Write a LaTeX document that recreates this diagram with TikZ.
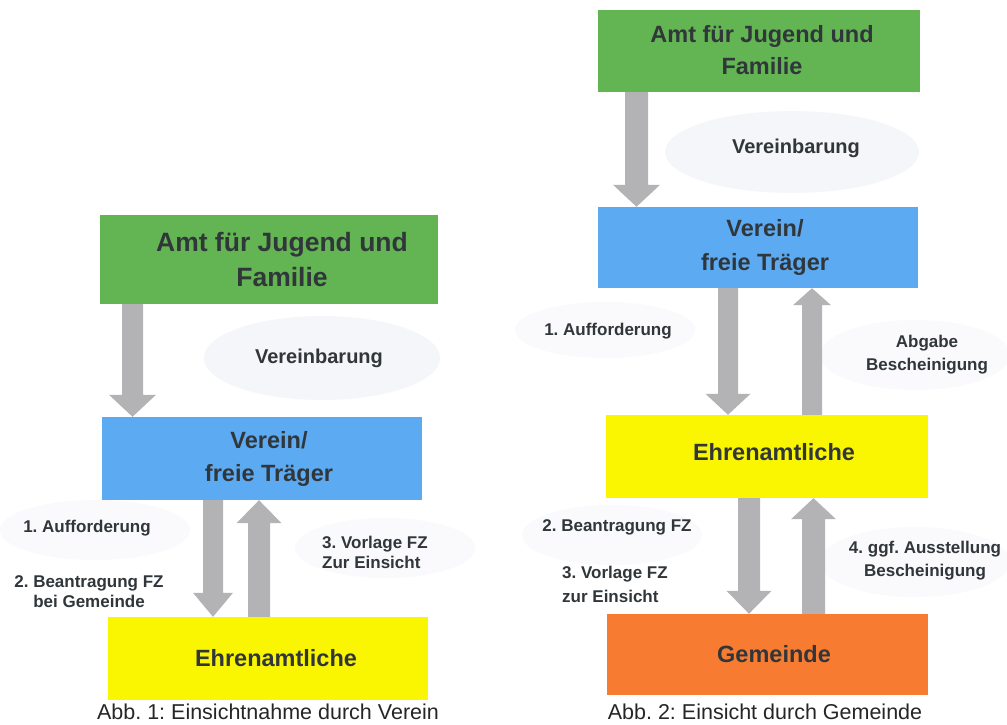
\documentclass[tikz,border=0pt]{standalone}
\usepackage{fontspec}
\setmainfont{Liberation Sans}
\usetikzlibrary{calc}
\frenchspacing
\definecolor{boxgreen}{HTML}{63B452}
\definecolor{boxblue}{HTML}{5BAAF2}
\definecolor{boxyellow}{HTML}{FAF500}
\definecolor{boxorange}{HTML}{F77B30}
\definecolor{arrgray}{HTML}{B3B3B5}
\definecolor{txt}{HTML}{30363A}
\definecolor{blob}{HTML}{F5F6F9}
\definecolor{blobb}{HTML}{FAFAFC}
\tikzset{
  box/.style={rectangle, inner sep=0pt, align=center, text=txt,
    font=\bfseries\fontsize{23.5}{33}\selectfont},
  lbl/.style={inner sep=0pt, text=txt, font=\bfseries\fontsize{17}{21}\selectfont},
  captxt/.style={inner sep=0pt, text=black!85, font=\fontsize{21.5}{24}\selectfont},
}
% block arrow from #1 to #2 (vertical), half shaft #3, half head #4, head length #5
\newcommand\blkarrow[5]{%
  \fill[arrgray] let \p1=(#1), \p2=(#2), \n1={sign(\y2-\y1)} in
    (\x1-#3,\y1) -- (\x1+#3,\y1) -- (\x1+#3,{\y2-\n1*#5}) -- (\x1+#4,{\y2-\n1*#5})
    -- (\x1,\y2) -- (\x1-#4,{\y2-\n1*#5}) -- (\x1-#3,{\y2-\n1*#5}) -- cycle;}
\begin{document}
\begin{tikzpicture}[x=1pt,y=-1pt]
\fill[white] (0,0) rectangle (1007,725);
\useasboundingbox (0,0) rectangle (1007,725);

% faint background blobs
\fill[blob] (322,358) ellipse [x radius=118, y radius=42];
\fill[blob] (792,152) ellipse [x radius=127, y radius=41];
\fill[blobb] (95,530) ellipse [x radius=95, y radius=30];
\fill[blobb] (385,548) ellipse [x radius=90, y radius=30];
\fill[blobb] (605,330) ellipse [x radius=90, y radius=28];
\fill[blobb] (915,355) ellipse [x radius=95, y radius=35];
\fill[blobb] (612,535) ellipse [x radius=90, y radius=30];
\fill[blobb] (915,562) ellipse [x radius=95, y radius=35];

% ---------- left diagram ----------
\node[box, fill=boxgreen, minimum width=338, minimum height=89, font=\bfseries\fontsize{26.5}{35}\selectfont]
  (g1) at (269,259.5) {\hspace*{26pt}Amt für Jugend und\\\hspace*{26pt}Familie};
\node[box, fill=boxblue, minimum width=320, minimum height=83] (v1) at (262,458.5) {\hspace*{14pt}Verein/\\\hspace*{14pt}freie Träger};
\node[box, fill=boxyellow, minimum width=320, minimum height=83] (e1) at (268,658.5) {\hspace*{16pt}Ehrenamtliche};

\coordinate (la) at (132.5,0);
\coordinate (lb) at (213,0);
\coordinate (lc) at (259,0);
\blkarrow{g1.south -| la}{v1.north -| la}{10.5pt}{23.5pt}{22pt}
\blkarrow{v1.south -| lb}{e1.north -| lb}{10pt}{20pt}{24pt}
\blkarrow{e1.north -| lc}{v1.south -| lc}{11pt}{22.5pt}{23pt}

\node[lbl, font=\bfseries\fontsize{20}{24}\selectfont] (vb1) at (319,358) {Vereinbarung};
\node[lbl] (l1) at (87,528) {1. Aufforderung};
\node[lbl, align=center, font=\bfseries\fontsize{17}{20}\selectfont] (l2) at (89,592) {2. Beantragung FZ\\bei Gemeinde};
\node[lbl, align=left, anchor=west, font=\bfseries\fontsize{17}{20}\selectfont] (l3) at (322,552) {3. Vorlage FZ\\Zur Einsicht};
\node[captxt] (c1) at (268,712) {Abb. 1: Einsichtnahme durch Verein};

% ---------- right diagram ----------
\node[box, fill=boxgreen, minimum width=322, minimum height=82, font=\bfseries\fontsize{23.5}{32}\selectfont]
  (g2) at (759,51) {\raisebox{3pt}{\hspace*{6pt}Amt für Jugend und}\\\raisebox{3pt}{\hspace*{6pt}Familie}};
\node[box, fill=boxblue, minimum width=320, minimum height=81, font=\bfseries\fontsize{23.5}{34}\selectfont] (v2) at (758,247.5) {\hspace*{14pt}Verein/\\\hspace*{14pt}freie Träger};
\node[box, fill=boxyellow, minimum width=322, minimum height=83] (e2) at (767,456.5) {\raisebox{10pt}{\hspace*{14pt}Ehrenamtliche}};
\node[box, fill=boxorange, minimum width=321, minimum height=81] (m2) at (767.5,654.5) {\hspace*{13pt}Gemeinde};

\coordinate (ra) at (636.5,0);
\coordinate (rb) at (728,0);
\coordinate (rc) at (812,0);
\coordinate (rd) at (749,0);
\coordinate (re) at (813.5,0);
\blkarrow{g2.south -| ra}{v2.north -| ra}{11.5pt}{23.5pt}{22pt}
\blkarrow{v2.south -| rb}{e2.north -| rb}{10pt}{22.5pt}{21pt}
\blkarrow{e2.north -| rc}{v2.south -| rc}{10pt}{19pt}{17pt}
\blkarrow{e2.south -| rd}{m2.north -| rd}{11pt}{22.5pt}{23pt}
\blkarrow{m2.north -| re}{e2.south -| re}{11.5pt}{22.5pt}{21pt}

\node[lbl, font=\bfseries\fontsize{20}{24}\selectfont] (vb2) at (796,148) {Vereinbarung};
\node[lbl] (r1) at (608,331) {1. Aufforderung};
\node[lbl, align=center, font=\bfseries\fontsize{17}{23}\selectfont] (r2) at (927,354.5) {Abgabe\\Bescheinigung};
\node[lbl] (r3) at (617,527) {2. Beantragung FZ};
\node[lbl, align=left, anchor=west, font=\bfseries\fontsize{17}{24}\selectfont] (r4) at (562,584) {3. Vorlage FZ\\zur Einsicht};
\node[lbl, align=center, font=\bfseries\fontsize{17}{23}\selectfont] (r5) at (925,560.5) {4. ggf. Ausstellung\\Bescheinigung};
\node[captxt] (c2) at (765,712) {Abb. 2: Einsicht durch Gemeinde};
\end{tikzpicture}
\end{document}
